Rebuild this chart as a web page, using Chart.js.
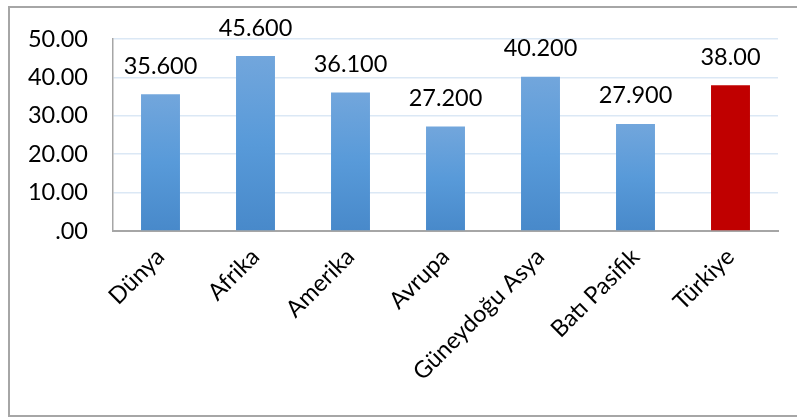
<!DOCTYPE html>
<html>
<head>
<meta charset="utf-8">
<script src="https://cdn.jsdelivr.net/npm/chart.js@4"></script>
<style>
    html, body { margin: 0; padding: 0; background: #fff; }
    #frame {
        position: absolute; left: 8px; top: 6px; width: 800px; height: 411px;
        border: 2px solid #a6a6a6; box-sizing: border-box;
    }
    #wrap { position: absolute; left: 0; top: 0; width: 797px; height: 420px; }
</style>
</head>
<body>
<div id="frame"></div>
<div id="wrap"><canvas id="chart"></canvas></div>
<script>
const regions = ['Dünya', 'Afrika', 'Amerika', 'Avrupa', 'Güneydoğu Asya', 'Batı Pasifik', 'Türkiye'];
const values = [35.6, 45.6, 36.1, 27.2, 40.2, 27.9, 38.0];
const valueLabels = ['35.600', '45.600', '36.100', '27.200', '40.200', '27.900', '38.00'];
const yTicks = [0, 10, 20, 30, 40, 50];
const yTickLabels = ['.00', '10.00', '20.00', '30.00', '40.00', '50.00'];

const fontFamily = 'Lato, "Open Sans", sans-serif';

// blue gradient per bar, red for Türkiye
function barColor(ctx) {
    if (ctx.dataIndex === regions.length - 1) return '#c00000';
    const chart = ctx.chart;
    const area = chart.chartArea;
    if (!area) return '#5b9bd5';
    const top = chart.scales.y.getPixelForValue(values[ctx.dataIndex]);
    const g = chart.ctx.createLinearGradient(0, top, 0, area.bottom);
    g.addColorStop(0, '#72a6dc');
    g.addColorStop(0.5, '#589ad9');
    g.addColorStop(1, '#4889ca');
    return g;
}

// value labels above the bars
const valueLabelPlugin = {
    id: 'valueLabels',
    afterDatasetsDraw(chart) {
        const ctx = chart.ctx;
        const meta = chart.getDatasetMeta(0);
        ctx.save();
        ctx.font = '23.5px ' + fontFamily;
        ctx.fillStyle = '#000';
        ctx.textAlign = 'center';
        ctx.textBaseline = 'middle';
        meta.data.forEach((bar, i) => {
            ctx.fillText(valueLabels[i], bar.x, bar.y - 28);
        });
        ctx.restore();
    }
};

new Chart(document.getElementById('chart'), {
    type: 'bar',
    data: {
        labels: regions,
        datasets: [{
            data: values,
            backgroundColor: barColor,
            categoryPercentage: 1,
            barPercentage: 0.41
        }]
    },
    options: {
        responsive: true,
        maintainAspectRatio: false,
        animation: false,
        layout: { padding: { top: 30, right: 19, left: 0, bottom: 0 } },
        plugins: {
            legend: { display: false },
            tooltip: { enabled: false }
        },
        scales: {
            x: {
                grid: { display: false },
                border: { color: '#a6a6a6', width: 2 },
                ticks: {
                    color: '#000',
                    font: { family: fontFamily, size: 23.5 },
                    maxRotation: 45,
                    minRotation: 45,
                    padding: 4
                },
                afterFit: (axis) => { axis.height = 189; }
            },
            y: {
                min: 0,
                max: 50,
                afterBuildTicks: (axis) => { axis.ticks = yTicks.map(v => ({ value: v })); },
                grid: { color: '#dbe8f5', lineWidth: 1.5, drawTicks: false },
                border: { color: '#a6a6a6', width: 1.5 },
                ticks: {
                    color: '#000',
                    font: { family: fontFamily, size: 23.5 },
                    padding: 25,
                    callback: (v) => yTickLabels[yTicks.indexOf(v)]
                },
                afterFit: (axis) => { axis.width = 113; }
            }
        }
    },
    plugins: [valueLabelPlugin]
});
</script>
</body>
</html>
